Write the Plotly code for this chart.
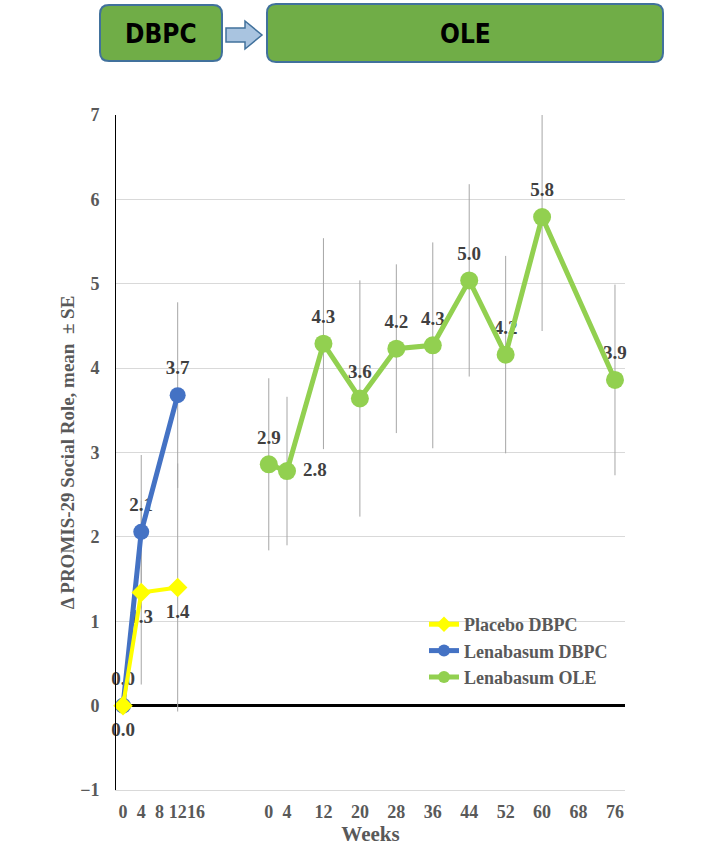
import plotly.graph_objects as go

# ---------------- data ----------------
weeks_dbpc = [0, 4, 12]
placebo_dbpc = [0.0, 1.34, 1.40]
placebo_dbpc_se = [0.0, 1.09, 1.47]
lena_dbpc = [0.0, 2.06, 3.68]
lena_dbpc_se = [0.0, 0.91, 1.10]

weeks_ole = [0, 4, 12, 20, 28, 36, 44, 52, 60, 76]
lena_ole = [2.86, 2.78, 4.29, 3.64, 4.23, 4.27, 5.04, 4.16, 5.79, 3.86]
lena_ole_se = [1.02, 0.88, 1.25, 1.40, 1.00, 1.22, 1.14, 1.17, 1.35, 1.13]

ole_offset = 32  # axis gap between the DBPC and OLE time scales
dbpc_tick_weeks = [0, 4, 8, 12, 16]
ole_tick_weeks = [0, 4, 12, 20, 28, 36, 44, 52, 60, 68, 76]
y_ticks = [-1, 0, 1, 2, 3, 4, 5, 6, 7]

x_ole = [w + ole_offset for w in weeks_ole]
tickvals = dbpc_tick_weeks + [w + ole_offset for w in ole_tick_weeks]
ticktext = [str(w) for w in dbpc_tick_weeks] + [str(w) for w in ole_tick_weeks]

# ---------------- style ----------------
W, H = 717, 846
L, T = 116, 115
R = W - 625
B = H - 790
PW, PH = W - L - R, H - T - B
SERIF = "Liberation Serif, Times New Roman, serif"
NARROW = "Liberation Sans Narrow, Arial Narrow, DejaVu Sans Condensed, sans-serif"
GRAY = "#595959"
LABEL = "#404040"
ERR = "#A6A6A6"
YELLOW = "#FFFF00"
BLUE = "#4472C4"
GREEN = "#92D050"


def fmt(vals):
    return [f"{v:.1f}" for v in vals]


fig = go.Figure()

# error bars (drawn first, clipped to the plot area)
def err_trace(x, y, se):
    return go.Scatter(
        x=x, y=y, mode="markers", marker=dict(size=1, color="rgba(0,0,0,0)"),
        error_y=dict(type="data", array=se, color=ERR, thickness=1, width=0),
        showlegend=False, hoverinfo="skip",
    )

# value labels (drawn under the lines, not clipped)
def label_trace(x, y, pos):
    return go.Scatter(
        x=x, y=y, mode="markers+text", text=fmt(y), textposition=pos,
        textfont=dict(family=SERIF, size=19, color=LABEL, weight="bold"),
        marker=dict(size=24, color="rgba(0,0,0,0)"), cliponaxis=False,
        showlegend=False, hoverinfo="skip",
    )

fig.add_trace(err_trace(weeks_dbpc, placebo_dbpc, placebo_dbpc_se))
fig.add_trace(err_trace(weeks_dbpc, lena_dbpc, lena_dbpc_se))
fig.add_trace(err_trace(x_ole, lena_ole, lena_ole_se))

fig.add_trace(label_trace(weeks_dbpc, placebo_dbpc, "bottom center"))
fig.add_trace(label_trace(weeks_dbpc, lena_dbpc, "top center"))
ole_pos = ["top center"] * len(weeks_ole)
ole_pos[1] = "middle right"
fig.add_trace(label_trace(x_ole, lena_ole, ole_pos))

# data series
fig.add_trace(go.Scatter(
    x=weeks_dbpc, y=lena_dbpc, mode="lines+markers", name="Lenabasum DBPC",
    line=dict(color=BLUE, width=5), marker=dict(symbol="circle", size=16, color=BLUE),
    cliponaxis=False, legendrank=2,
))
fig.add_trace(go.Scatter(
    x=weeks_dbpc, y=placebo_dbpc, mode="lines+markers", name="Placebo DBPC",
    line=dict(color=YELLOW, width=4), marker=dict(symbol="diamond", size=15, color=YELLOW),
    cliponaxis=False, legendrank=1,
))
fig.add_trace(go.Scatter(
    x=x_ole, y=lena_ole, mode="lines+markers", name="Lenabasum OLE",
    line=dict(color=GREEN, width=5), marker=dict(symbol="circle", size=18, color=GREEN),
    legendrank=3,
))

# ---------------- header boxes ----------------
def px2p(x, y):
    return (x - L) / PW, (H - B - y) / PH


def rrect(x0, y0, x1, y1, r):
    pts = [
        ("M", [(x0 + r, y0)]), ("L", [(x1 - r, y0)]), ("Q", [(x1, y0), (x1, y0 + r)]),
        ("L", [(x1, y1 - r)]), ("Q", [(x1, y1), (x1 - r, y1)]),
        ("L", [(x0 + r, y1)]), ("Q", [(x0, y1), (x0, y1 - r)]),
        ("L", [(x0, y0 + r)]), ("Q", [(x0, y0), (x0 + r, y0)]),
    ]
    s = ""
    for cmd, ps in pts:
        s += cmd + " " + " ".join("%.5f,%.5f" % px2p(*p) for p in ps) + " "
    return s + "Z"


def poly(points):
    s = "M " + " L ".join("%.5f,%.5f" % px2p(*p) for p in points)
    return s + " Z"


shapes = [
    dict(type="path", xref="paper", yref="paper", path=rrect(100, 5, 222, 61, 9),
         fillcolor="#70AD47", line=dict(color="#41719C", width=2)),
    dict(type="path", xref="paper", yref="paper", path=rrect(267, 4, 663, 62, 9),
         fillcolor="#70AD47", line=dict(color="#41719C", width=2)),
    dict(type="path", xref="paper", yref="paper",
         path=poly([(226, 28), (245, 28), (245, 21), (262, 35), (245, 49), (245, 42), (226, 42)]),
         fillcolor="#A9C4E0", line=dict(color="#41719C", width=1.5)),
]

annotations = []
for txt, cx, cy in [("DBPC", 161, 34), ("OLE", 465, 34)]:
    xp, yp = px2p(cx, cy)
    annotations.append(dict(
        text=txt, x=xp, y=yp, xref="paper", yref="paper", showarrow=False,
        xanchor="center", yanchor="middle",
        font=dict(family=NARROW, size=26, color="#000000", weight="bold"),
    ))

lx, ly = px2p(424, 606)
fig.update_layout(
    width=W, height=H,
    margin=dict(l=L, r=R, t=T, b=B, autoexpand=False),
    plot_bgcolor="white", paper_bgcolor="white",
    shapes=shapes, annotations=annotations,
    legend=dict(
        x=lx, y=ly, xanchor="left", yanchor="top",
        bgcolor="rgba(0,0,0,0)", borderwidth=0,
        font=dict(family=SERIF, size=18, color=GRAY, weight="bold"),
        itemsizing="constant", tracegroupgap=0,
    ),
    xaxis=dict(
        range=[-1.54, 110.2], tickmode="array", tickvals=tickvals, ticktext=ticktext,
        tickangle=0,
        showgrid=False, zeroline=False, showline=True, linecolor="#D9D9D9", linewidth=1,
        ticks="", ticklabelstandoff=5,
        tickfont=dict(family=SERIF, size=18, color=GRAY, weight="bold"),
        title=dict(text="Weeks", standoff=3,
                   font=dict(family=SERIF, size=21, color=GRAY, weight="bold")),
    ),
    yaxis=dict(
        range=[-1, 7], tickmode="array", tickvals=y_ticks,
        showgrid=True, gridcolor="#D9D9D9", gridwidth=1,
        zeroline=True, zerolinecolor="#000000", zerolinewidth=3,
        showline=True, linecolor="#000000", linewidth=1,
        ticks="", ticklabelstandoff=12,
        tickfont=dict(family=SERIF, size=18, color=GRAY, weight="bold"),
        title=dict(text="Δ PROMIS-29 Social Role, mean  ± SE", standoff=0,
                   font=dict(family=SERIF, size=19, color=GRAY, weight="bold")),
    ),
)

fig.write_html("out.html", config={"displayModeBar": False},
               post_script="document.body.style.margin='0';")
